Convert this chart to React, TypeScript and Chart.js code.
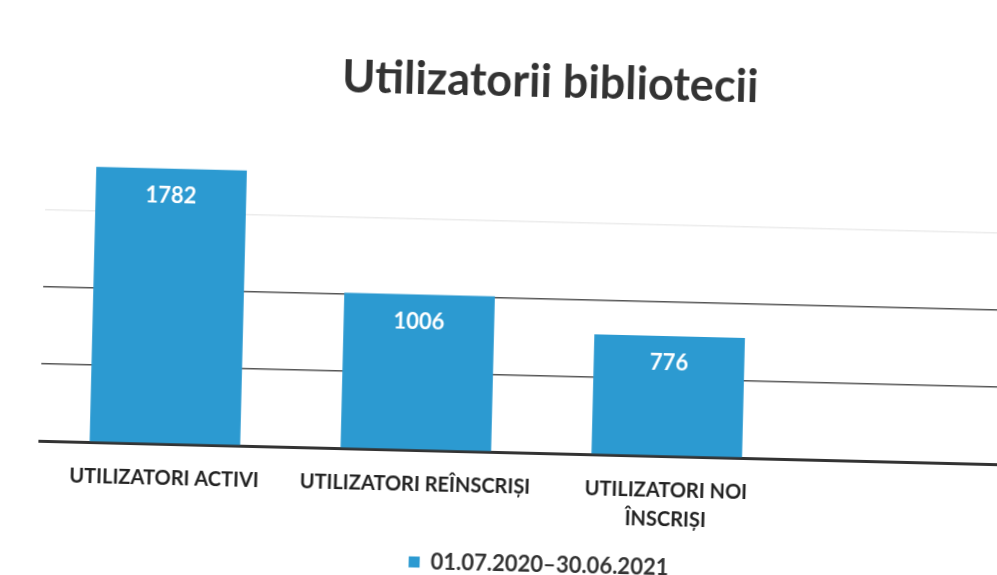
import React, { useEffect, useRef } from "react";
import { Chart, registerables } from "chart.js";

Chart.register(...registerables);

const categories: (string | string[])[] = [
  "UTILIZATORI ACTIVI",
  "UTILIZATORI REÎNSCRIȘI",
  ["UTILIZATORI NOI", "ÎNSCRIȘI"],
  "",
];
const seriesName = "01.07.2020–30.06.2021";
const values: (number | null)[] = [1782, 1006, 776, null];
const yTicks = [0, 500, 1000, 1500, 2000];
const chartTitle = "Utilizatorii bibliotecii";

const BAR = "#2C9AD1";
const W = 1091;
const H = 600;

const valueLabels = {
  id: "valueLabels",
  afterDatasetsDraw(chart: any) {
    const ctx = chart.ctx;
    const meta = chart.getDatasetMeta(0);
    ctx.save();
    ctx.fillStyle = "#ffffff";
    ctx.font = "bold 22px Lato";
    ctx.textAlign = "center";
    ctx.textBaseline = "middle";
    meta.data.forEach((el: any, i: number) => {
      const v = values[i];
      if (v == null) return;
      ctx.fillText(String(v), el.x, el.y + 27);
    });
    ctx.restore();
  },
};

export default function App() {
  const ref = useRef<HTMLCanvasElement>(null);
  useEffect(() => {
    if (!ref.current) return;
    const chart = new Chart(ref.current, {
      type: "bar",
      data: {
        labels: categories,
        datasets: [
          {
            label: seriesName,
            data: values,
            backgroundColor: BAR,
            borderWidth: 0,
            categoryPercentage: 1,
            barPercentage: 0.6,
          },
        ],
      },
      options: {
        responsive: false,
        animation: false,
        layout: { padding: { left: 43, right: 44, bottom: 15, top: 0 } },
        plugins: {
          title: {
            display: true,
            text: chartTitle,
            color: "#333333",
            font: { family: "Lato", size: 45, weight: "bold", lineHeight: 1.2 },
            padding: { top: 54, bottom: 35 },
          },
          legend: {
            position: "bottom",
            labels: {
              color: "#333333",
              font: { family: "Lato", size: 22, weight: "bold" },
              boxWidth: 11,
              boxHeight: 11,
              padding: 3,
            },
          },
          tooltip: { enabled: false },
        },
        scales: {
          x: {
            grid: { display: false, drawTicks: false },
            border: { display: true, color: "#333333", width: 3 },
            ticks: {
              color: "#222222",
              font: { family: "Lato", size: 20, weight: "bold", lineHeight: 1.45 },
              padding: 20,
              maxRotation: 0,
              autoSkip: false,
            },
          },
          y: {
            min: yTicks[0],
            max: yTicks[yTicks.length - 1],
            afterBuildTicks: (axis: any) => {
              axis.ticks = yTicks.map((v) => ({ value: v }));
            },
            ticks: { display: false },
            border: { display: false },
            grid: {
              drawTicks: false,
              lineWidth: 1.5,
              color: (c: any) => {
                const v = c.tick?.value;
                if (v === 500 || v === 1000) return "#555555";
                if (v === 1500) return "#ececec";
                return "rgba(0,0,0,0)";
              },
            },
          },
        },
      },
      plugins: [valueLabels],
    });
    return () => chart.destroy();
  }, []);

  return (
    <div
      style={{
        position: "fixed",
        left: 0,
        top: 0,
        width: 997,
        height: 575,
        overflow: "hidden",
        background: "#ffffff",
      }}
    >
      <div
        style={{
          position: "absolute",
          left: 0,
          top: 0,
          width: W,
          height: H,
          transform: "rotate(1.4deg)",
          transformOrigin: "500px 300px",
        }}
      >
        <canvas ref={ref} width={W} height={H} />
      </div>
    </div>
  );
}
